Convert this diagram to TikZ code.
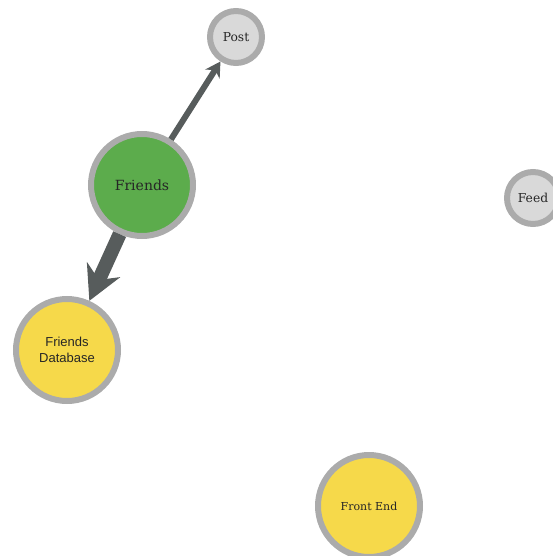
\documentclass[tikz,border=0pt]{standalone}
\usepackage{fontspec}
\setmainfont{DejaVu Serif}
\newfontfamily\labelsans{Liberation Sans}
\usetikzlibrary{arrows.meta}
\definecolor{ringgray}{HTML}{ABABAB}
\definecolor{greyfill}{HTML}{D9D9D9}
\definecolor{greenfill}{HTML}{5CAC4C}
\definecolor{yellowfill}{HTML}{F6D94A}
\definecolor{edgegray}{HTML}{575C5C}
\tikzset{
  vnode/.style={circle, draw=ringgray, line width=6pt, inner sep=0pt, align=center, text=black!85},
  small/.style={vnode, fill=greyfill, minimum size=52pt, font=\fontsize{12.3}{14}\selectfont},
  big/.style={vnode, minimum size=102pt},
  thinedge/.style={draw=edgegray, line width=6pt, -{Stealth[length=15pt,width=17pt,inset=5pt]}},
  thickedge/.style={draw=edgegray, line width=14pt, -{Stealth[length=34pt,width=36pt,inset=11pt]}}
}
\begin{document}
\begin{tikzpicture}[x=1pt,y=-1pt]
\useasboundingbox (0,0) rectangle (553,556);
\clip (0,0) rectangle (553,556);
\node[small] (post) at (236,37) {Post};
\node[small] (feed) at (533,198) {Feed};
\node[big, fill=greenfill, font=\fontsize{14}{16}\selectfont] (friends) at (142,185) {Friends};
\node[big, fill=yellowfill, font=\labelsans\fontsize{13}{16}\selectfont] (fdb) at (67,350) {Friends\\Database};
\node[big, fill=yellowfill, font=\fontsize{11}{13}\selectfont] (front) at (369,506) {Front End};
\draw[thinedge] (friends) -- (post);
\draw[thickedge] (friends) -- (fdb);
\end{tikzpicture}
\end{document}
